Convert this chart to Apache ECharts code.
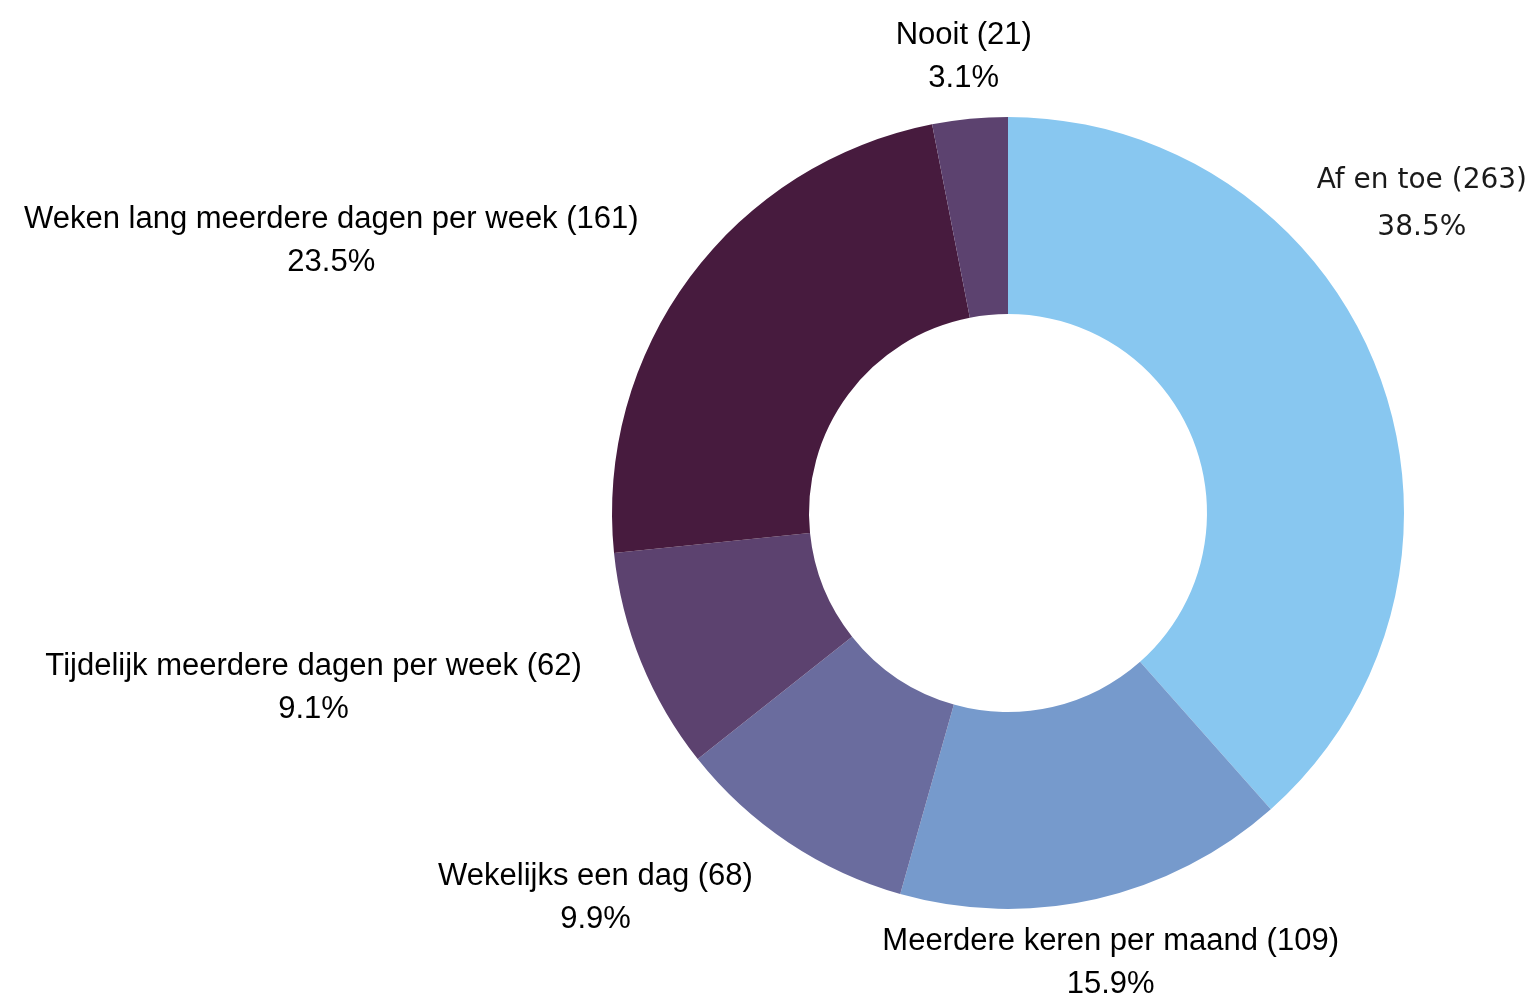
<!DOCTYPE html>
<html>
<head>
<meta charset="utf-8">
<script src="https://cdn.jsdelivr.net/npm/echarts@6/dist/echarts.min.js"></script>
<style>
  html, body { margin: 0; padding: 0; background: #fff; }
  #chart { width: 1531px; height: 997px; }
</style>
</head>
<body>
<div id="chart"></div>
<script>
// categories and counts, clockwise from the top
const categories = [
  'Af en toe',
  'Meerdere keren per maand',
  'Wekelijks een dag',
  'Tijdelijk meerdere dagen per week',
  'Weken lang meerdere dagen per week',
  'Nooit'
]
const counts = [263, 109, 68, 62, 161, 21]

const sliceColors = ['#88c7f0', '#769acc', '#6a6c9e', '#5c426f', '#471b3e', '#5c426f']

const CENTER = [1008, 513]
const LABEL_RADIUS = 460
// small nudge so the text sits where the original put it
const LABEL_DY = 2
// the first label would run off the right edge, so it is pulled up against it
const EDGE_LABEL_LIFT = -146

const chart = echarts.init(document.getElementById('chart'))

const labelLayout = (params) => {
  const r = params.labelRect
  const ax = params.align === 'right' ? r.x + r.width : (params.align === 'left' ? r.x : r.x + r.width / 2)
  const ay = r.y + r.height / 2
  // labels close to the top or bottom are centred on their anchor
  if (Math.abs(ax - CENTER[0]) < LABEL_RADIUS * 0.5) {
    return { x: ax, y: ay + LABEL_DY, align: 'center' }
  }
  if (params.align === 'left' && ax + r.width > chart.getWidth()) {
    return { x: chart.getWidth() - 4, y: ay + EDGE_LABEL_LIFT, align: 'right' }
  }
  return { x: ax, y: ay + LABEL_DY }
}

const option = {
  animation: false,
  series: [{
    type: 'pie',
    center: CENTER,
    radius: [199, 396],
    startAngle: 90,
    clockwise: true,
    percentPrecision: 1,
    avoidLabelOverlap: false,
    emphasis: { disabled: true },
    label: {
      show: true,
      position: 'outside',
      distanceToLabelLine: 0,
      formatter: '{a|{b} ({c})}\n{a|{d}%}',
      rich: {
        a: {
          fontFamily: '"Liberation Sans", Arial, sans-serif',
          fontSize: 31,
          lineHeight: 43,
          color: '#000',
          align: 'center'
        }
      }
    },
    labelLine: { show: false, length: LABEL_RADIUS - 396, length2: 0 },
    labelLayout: labelLayout,
    data: categories.map((name, i) => {
      const item = { name, value: counts[i], itemStyle: { color: sliceColors[i] } }
      if (i === 0) {
        item.label = {
          rich: {
            a: {
              fontFamily: '"DejaVu Sans", sans-serif',
              fontSize: 28,
              lineHeight: 47,
              color: '#1a1a1a',
              align: 'center'
            }
          }
        }
      }
      return item
    })
  }]
}

chart.setOption(option)
</script>
</body>
</html>
